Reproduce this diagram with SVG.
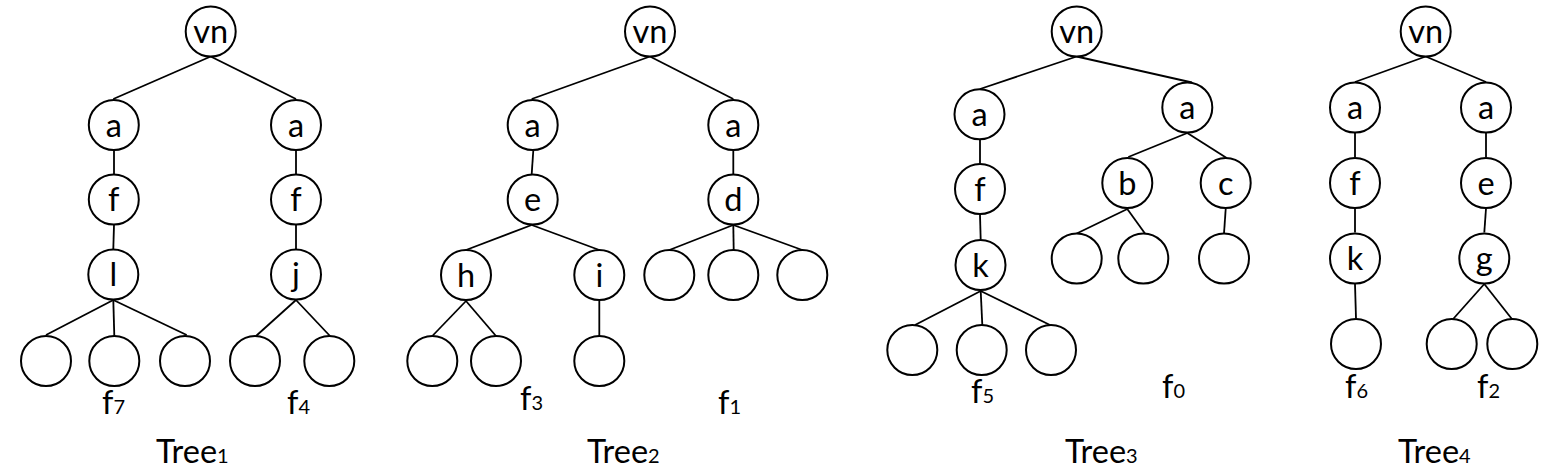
<svg xmlns="http://www.w3.org/2000/svg" width="1556" height="471" viewBox="0 0 1556 471">
<style>
.n circle{fill:#fff;stroke:#000;stroke-width:2}
.n text{font-family:Lato,"Liberation Sans",sans-serif;font-size:32.5px;text-anchor:middle;fill:#000}
.e line{stroke:#000;stroke-width:1.8}
.lb{font-family:Lato,"Liberation Sans",sans-serif;font-size:32.5px;fill:#000}
.sb{font-size:20px}
</style>
<rect width="1556" height="471" fill="#fff"/>
<g id="connectors" class="e">
<!-- Tree1 -->
<line x1="210.7" y1="56.5" x2="113.3" y2="99"/>
<line x1="210.7" y1="56.5" x2="296" y2="99"/>
<line x1="114" y1="150" x2="114" y2="174"/>
<line x1="296" y1="150" x2="296" y2="174"/>
<line x1="114" y1="225" x2="113.3" y2="249"/>
<line x1="296" y1="225" x2="296" y2="249"/>
<line x1="113.3" y1="300" x2="46" y2="335"/>
<line x1="113.3" y1="300" x2="114.3" y2="336"/>
<line x1="113.3" y1="300" x2="186.7" y2="335"/>
<line x1="296" y1="300" x2="256" y2="336"/>
<line x1="296" y1="300" x2="330" y2="336"/>
<!-- Tree2 -->
<line x1="650" y1="56.5" x2="531.7" y2="99"/>
<line x1="650" y1="56.5" x2="733.3" y2="99"/>
<line x1="533.3" y1="150.5" x2="531.7" y2="174"/>
<line x1="733.3" y1="150.5" x2="733.3" y2="174"/>
<line x1="531.7" y1="225" x2="466" y2="250"/>
<line x1="531.7" y1="225" x2="599.3" y2="250"/>
<line x1="733.3" y1="225" x2="669.3" y2="250"/>
<line x1="733.3" y1="225" x2="733.7" y2="250"/>
<line x1="733.3" y1="225" x2="802.3" y2="250"/>
<line x1="466" y1="301" x2="432.3" y2="336"/>
<line x1="466" y1="301" x2="496" y2="336"/>
<line x1="599.3" y1="301" x2="599.3" y2="336"/>
<!-- Tree3 -->
<line x1="1076.7" y1="56.5" x2="980" y2="89"/>
<line x1="1076.7" y1="56.5" x2="1192" y2="82.5"/>
<line x1="980" y1="139.5" x2="980" y2="163.5"/>
<line x1="980" y1="215" x2="980.7" y2="239.5"/>
<line x1="980.7" y1="291" x2="915" y2="325"/>
<line x1="980.7" y1="291" x2="982.3" y2="325"/>
<line x1="980.7" y1="291" x2="1050" y2="325"/>
<line x1="1187.3" y1="133" x2="1128.3" y2="157"/>
<line x1="1187.3" y1="133" x2="1226.7" y2="158"/>
<line x1="1127.3" y1="209" x2="1076.7" y2="233.5"/>
<line x1="1127.3" y1="209" x2="1145" y2="233.5"/>
<line x1="1225.7" y1="209" x2="1224" y2="233.5"/>
<!-- Tree4 -->
<line x1="1425.7" y1="56.5" x2="1355" y2="82"/>
<line x1="1425.7" y1="56.5" x2="1486" y2="82"/>
<line x1="1355" y1="133" x2="1355" y2="157"/>
<line x1="1355" y1="208.5" x2="1355" y2="232.5"/>
<line x1="1355" y1="284" x2="1356" y2="318.5"/>
<line x1="1486" y1="133" x2="1486" y2="157"/>
<line x1="1486" y1="208.5" x2="1484.3" y2="232.5"/>
<line x1="1484.3" y1="284" x2="1452.7" y2="319.5"/>
<line x1="1484.3" y1="284" x2="1512.3" y2="319.5"/>
</g>
<!-- Tree1 nodes -->
<g id="t1-vn" class="n"><circle cx="210.7" cy="31.5" r="25"/><text x="210.7" y="43">vn</text></g>
<g id="t1-a1" class="n"><circle cx="113.8" cy="125" r="25"/><text x="113.8" y="136.5">a</text></g>
<g id="t1-a2" class="n"><circle cx="296" cy="125" r="25"/><text x="296" y="136.5">a</text></g>
<g id="t1-f1" class="n"><circle cx="113.8" cy="199.5" r="25"/><text x="113.8" y="211">f</text></g>
<g id="t1-f2" class="n"><circle cx="296" cy="199.5" r="25"/><text x="296" y="211">f</text></g>
<g id="t1-l" class="n"><circle cx="113.3" cy="274.5" r="25"/><text x="113.3" y="286">l</text></g>
<g id="t1-j" class="n"><circle cx="296" cy="274.5" r="25"/><text x="296" y="286">j</text></g>
<g id="t1-leaf1" class="n"><circle cx="46" cy="361" r="25"/></g>
<g id="t1-leaf2" class="n"><circle cx="114.3" cy="361" r="25"/></g>
<g id="t1-leaf3" class="n"><circle cx="185" cy="361" r="25"/></g>
<g id="t1-leaf4" class="n"><circle cx="255" cy="361" r="25"/></g>
<g id="t1-leaf5" class="n"><circle cx="329.3" cy="361" r="25"/></g>
<!-- Tree2 nodes -->
<g id="t2-vn" class="n"><circle cx="650" cy="31.5" r="25"/><text x="650" y="43">vn</text></g>
<g id="t2-a1" class="n"><circle cx="532.7" cy="125" r="25"/><text x="532.7" y="136.5">a</text></g>
<g id="t2-a2" class="n"><circle cx="733.3" cy="125" r="25"/><text x="733.3" y="136.5">a</text></g>
<g id="t2-e" class="n"><circle cx="532.7" cy="199.5" r="25"/><text x="532.7" y="211">e</text></g>
<g id="t2-d" class="n"><circle cx="733.3" cy="199.5" r="25"/><text x="733.3" y="211">d</text></g>
<g id="t2-h" class="n"><circle cx="466" cy="275" r="25"/><text x="466" y="286.5">h</text></g>
<g id="t2-i" class="n"><circle cx="599.3" cy="275" r="25"/><text x="599.3" y="286.5">i</text></g>
<g id="t2-leaf1" class="n"><circle cx="669.3" cy="275" r="25"/></g>
<g id="t2-leaf2" class="n"><circle cx="733.3" cy="275" r="25"/></g>
<g id="t2-leaf3" class="n"><circle cx="802.3" cy="275" r="25"/></g>
<g id="t2-leaf4" class="n"><circle cx="432.3" cy="361" r="25"/></g>
<g id="t2-leaf5" class="n"><circle cx="496" cy="361" r="25"/></g>
<g id="t2-leaf6" class="n"><circle cx="599.3" cy="361" r="25"/></g>
<!-- Tree3 nodes -->
<g id="t3-vn" class="n"><circle cx="1076.7" cy="31.5" r="25"/><text x="1076.7" y="43">vn</text></g>
<g id="t3-a1" class="n"><circle cx="979.5" cy="114.3" r="25"/><text x="979.5" y="125.8">a</text></g>
<g id="t3-a2" class="n"><circle cx="1187.3" cy="107.5" r="25"/><text x="1187.3" y="119">a</text></g>
<g id="t3-f" class="n"><circle cx="980" cy="189" r="25"/><text x="980" y="200.5">f</text></g>
<g id="t3-k" class="n"><circle cx="980.5" cy="265" r="25"/><text x="980.5" y="276.5">k</text></g>
<g id="t3-b" class="n"><circle cx="1127.3" cy="183" r="25"/><text x="1127.3" y="194.5">b</text></g>
<g id="t3-c" class="n"><circle cx="1225.7" cy="183" r="25"/><text x="1225.7" y="194.5">c</text></g>
<g id="t3-leaf1" class="n"><circle cx="1076.7" cy="258.5" r="25"/></g>
<g id="t3-leaf2" class="n"><circle cx="1143.3" cy="258.5" r="25"/></g>
<g id="t3-leaf3" class="n"><circle cx="1224" cy="258.5" r="25"/></g>
<g id="t3-leaf4" class="n"><circle cx="912.3" cy="350" r="25"/></g>
<g id="t3-leaf5" class="n"><circle cx="981.7" cy="350" r="25"/></g>
<g id="t3-leaf6" class="n"><circle cx="1051" cy="350" r="25"/></g>
<!-- Tree4 nodes -->
<g id="t4-vn" class="n"><circle cx="1425.7" cy="31.5" r="25"/><text x="1425.7" y="43">vn</text></g>
<g id="t4-a1" class="n"><circle cx="1355" cy="107.5" r="25"/><text x="1355" y="119">a</text></g>
<g id="t4-a2" class="n"><circle cx="1486" cy="107.5" r="25"/><text x="1486" y="119">a</text></g>
<g id="t4-f" class="n"><circle cx="1355" cy="183" r="25"/><text x="1355" y="194.5">f</text></g>
<g id="t4-e" class="n"><circle cx="1486" cy="183" r="25"/><text x="1486" y="194.5">e</text></g>
<g id="t4-k" class="n"><circle cx="1355" cy="258.5" r="25"/><text x="1355" y="270">k</text></g>
<g id="t4-g" class="n"><circle cx="1484.3" cy="258.5" r="25"/><text x="1484.3" y="270">g</text></g>
<g id="t4-leaf1" class="n"><circle cx="1356" cy="344" r="25"/></g>
<g id="t4-leaf2" class="n"><circle cx="1451.7" cy="344" r="25"/></g>
<g id="t4-leaf3" class="n"><circle cx="1512.3" cy="344" r="25"/></g>
<!-- labels -->
<g id="labels">
<text class="lb" x="102" y="414">f<tspan class="sb">7</tspan></text>
<text class="lb" x="287" y="414">f<tspan class="sb">4</tspan></text>
<text class="lb" x="156" y="463">Tree<tspan class="sb">1</tspan></text>
<text class="lb" x="520" y="410">f<tspan class="sb">3</tspan></text>
<text class="lb" x="718" y="414">f<tspan class="sb">1</tspan></text>
<text class="lb" x="587" y="463">Tree<tspan class="sb">2</tspan></text>
<text class="lb" x="971" y="403">f<tspan class="sb">5</tspan></text>
<text class="lb" x="1162" y="398">f<tspan class="sb">0</tspan></text>
<text class="lb" x="1065" y="463">Tree<tspan class="sb">3</tspan></text>
<text class="lb" x="1345" y="398">f<tspan class="sb">6</tspan></text>
<text class="lb" x="1477" y="398">f<tspan class="sb">2</tspan></text>
<text class="lb" x="1398" y="463">Tree<tspan class="sb">4</tspan></text>
</g>
</svg>
